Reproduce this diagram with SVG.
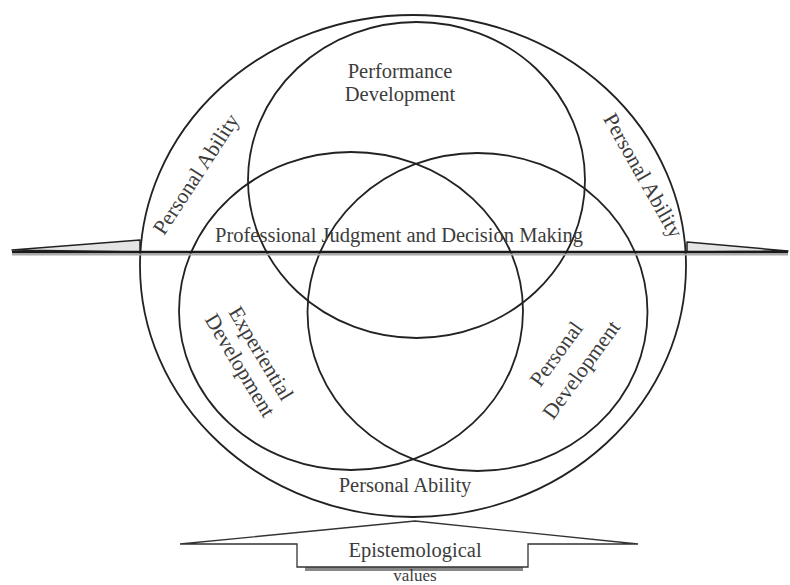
<svg xmlns="http://www.w3.org/2000/svg" width="790" height="585" viewBox="0 0 790 585">
<style>
.ring{fill:none;stroke:#222;stroke-width:1.8}
.lbl{font-family:"Liberation Serif","Times New Roman",serif;font-size:20.5px;fill:#3c3c3c}
.rot{font-size:21.5px}
</style>
<rect width="790" height="585" fill="#fff"/>
<g id="personal-ability">
<ellipse class="ring" cx="413" cy="266" rx="273" ry="251"/>
<text class="lbl rot" text-anchor="middle" transform="translate(202,178) rotate(-57)">Personal Ability</text>
<text class="lbl rot" text-anchor="middle" transform="translate(637,179) rotate(60.5)">Personal Ability</text>
<text class="lbl" x="405" y="492" text-anchor="middle">Personal Ability</text>
</g>
<g id="performance-development">
<ellipse class="ring" cx="416.5" cy="180" rx="168.5" ry="158"/>
<text class="lbl" x="400" y="78" text-anchor="middle">Performance</text>
<text class="lbl" x="400" y="101" text-anchor="middle">Development</text>
</g>
<g id="experiential-development">
<ellipse class="ring" cx="351" cy="311" rx="172" ry="159"/>
<text class="lbl rot" text-anchor="middle" transform="translate(255,357) rotate(59)">Experiential</text>
<text class="lbl rot" text-anchor="middle" transform="translate(234,369) rotate(59)">Development</text>
</g>
<g id="personal-development">
<ellipse class="ring" cx="477.5" cy="312" rx="170" ry="159"/>
<text class="lbl rot" text-anchor="middle" transform="translate(562,358) rotate(-54)">Personal</text>
<text class="lbl rot" text-anchor="middle" transform="translate(587,374) rotate(-54)">Development</text>
</g>
<g id="connectors">
<polygon points="12,250 140,240 140,252" fill="#e4e4e4" stroke="#222" stroke-width="1.5" stroke-linejoin="round"/>
<polygon points="788,251 687,242 687,252" fill="#e4e4e4" stroke="#222" stroke-width="1.5" stroke-linejoin="round"/>
<line x1="12" y1="254.5" x2="788" y2="254.5" stroke="#aaa" stroke-width="2"/>
<line x1="12" y1="252" x2="788" y2="252" stroke="#1a1a1a" stroke-width="2.6"/>
</g>
<g id="professional-judgment">
<text class="lbl" x="399" y="242" text-anchor="middle" textLength="368" lengthAdjust="spacingAndGlyphs">Professional Judgment and Decision Making</text>
</g>
<g id="epistemological-values">
<rect x="305" y="567" width="218" height="4" fill="#888"/>
<polygon points="415,521 638,544 528,544 528,567 297,567 297,544 180,544" fill="#fff" stroke="#333" stroke-width="1.3" stroke-linejoin="miter"/>
<text class="lbl" x="415" y="557" text-anchor="middle">Epistemological</text>
<text class="lbl" x="415" y="581" text-anchor="middle" style="font-size:17px">values</text>
</g>
</svg>
